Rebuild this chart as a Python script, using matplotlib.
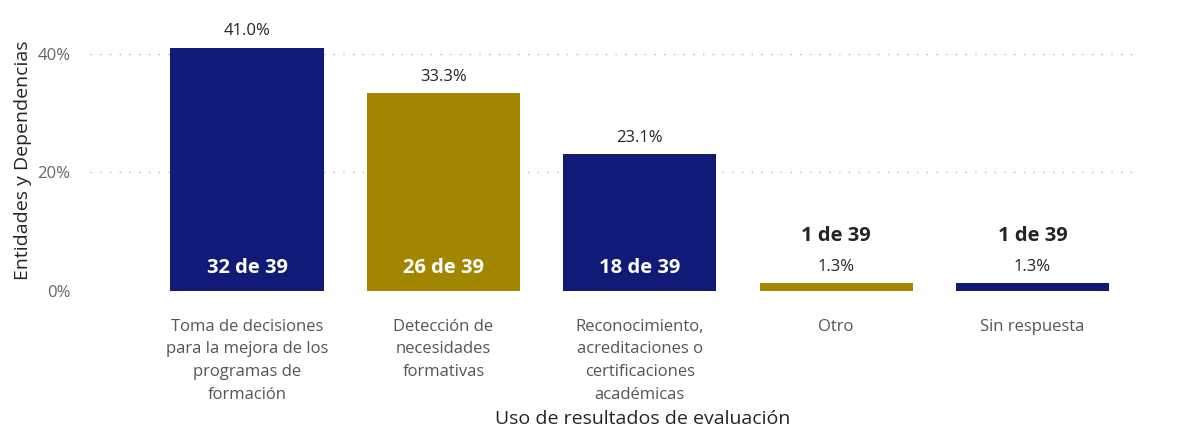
import matplotlib.pyplot as plt
from matplotlib.ticker import FuncFormatter

plt.rcParams['font.family'] = ['Open Sans', 'DejaVu Sans']

categories = ['Toma de decisiones\npara la mejora de los\nprogramas de\nformación',
              'Detección de\nnecesidades\nformativas',
              'Reconocimiento,\nacreditaciones o\ncertificaciones\nacadémicas',
              'Otro',
              'Sin respuesta']
shares = [0.410, 0.333, 0.231, 0.013, 0.013]
counts = [32, 26, 18, 1, 1]
total = 39
colors = ['#111B77', '#A38600', '#111B77', '#A38600', '#111B77']

fig = plt.figure(figsize=(11.79, 4.28), dpi=100)
ax = fig.add_axes([0.0763, 0.320, 0.891, 0.610])

x = list(range(len(categories)))
bars = ax.bar(x, shares, width=0.78, color=colors, zorder=3)

for i, (b, s, c) in enumerate(zip(bars, shares, counts)):
    cx = b.get_x() + b.get_width() / 2
    ax.annotate(f'{s * 100:.1f}%', (cx, s), xytext=(0, 6), textcoords='offset points',
                ha='center', va='bottom', fontsize=12, color='#252423')
    if s > 0.05:
        ax.text(cx, 0.039, f'{c} de {total}', ha='center', va='center',
                fontsize=14.5, fontweight='bold', color='white', zorder=4)
    else:
        ax.annotate(f'{c} de {total}', (cx, s), xytext=(0, 27), textcoords='offset points',
                    ha='center', va='bottom', fontsize=14.5, fontweight='bold', color='#252423')

ax.set_xlim(-0.8, 4.55)
ax.set_ylim(0, 0.44)
ax.set_yticks([0, 0.2, 0.4])
ax.yaxis.set_major_formatter(FuncFormatter(lambda v, p: f'{v * 100:.0f}%'))
ax.set_xticks(x)
ax.set_xticklabels(categories, fontsize=12, color='#555555', linespacing=1.55)
ax.tick_params(axis='y', labelsize=12, labelcolor='#666666', length=0, pad=14)
ax.tick_params(axis='x', length=0, pad=20)
ax.grid(axis='y', linestyle=(0, (1, 6)), color='#BBBBBB', linewidth=1, zorder=0)
for sp in ax.spines.values():
    sp.set_visible(False)

ax.set_ylabel('Entidades y Dependencias', fontsize=14, color='#252423', labelpad=4)
fig.text(0.545, 0.022, 'Uso de resultados de evaluación', ha='center', va='center',
         fontsize=14, color='#252423')

fig.savefig('out.png', dpi=100)
